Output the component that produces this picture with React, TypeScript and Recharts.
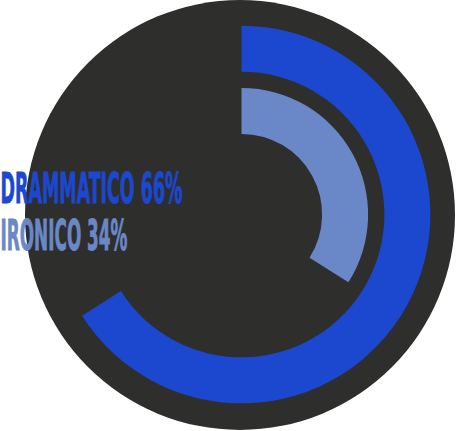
import { RadialBarChart, RadialBar, PolarAngleAxis, Cell } from "recharts";

// inner ring first, outer ring last
const categories = ["IRONICO", "DRAMMATICO"];
const percentages = [34, 66];

const COLORS: Record<string, string> = {
  IRONICO: "#6a88c8",
  DRAMMATICO: "#1b48cf",
};

const chartData = categories.map((name, i) => ({
  name,
  value: percentages[i],
}));

// label text widths in the original (condensed headline face)
const LABEL_WIDTH: Record<string, number> = {
  DRAMMATICO: 183,
  IRONICO: 128,
};

const App = () => {
  const labels = [...chartData].reverse();
  return (
    <div style={{ position: "absolute", top: 0, left: 0, width: 456, height: 431 }}>
      <div
        style={{
          position: "absolute",
          left: 25,
          top: -0.5,
          width: 430,
          height: 430,
          borderRadius: "50%",
          background: "#2e2e2d",
        }}
      />
      <div style={{ position: "absolute", top: 0, left: 0 }}>
        <RadialBarChart
          width={456}
          height={431}
          cx={241.5}
          cy={214.5}
          innerRadius={72.6}
          outerRadius={197.1}
          barSize={46}
          startAngle={90}
          endAngle={-270}
          data={chartData}
        >
          <PolarAngleAxis type="number" domain={[0, 100]} tick={false} axisLine={false} />
          <RadialBar dataKey="value" isAnimationActive={false}>
            {chartData.map((d) => (
              <Cell key={d.name} fill={COLORS[d.name]} />
            ))}
          </RadialBar>
        </RadialBarChart>
      </div>
      <svg
        width={456}
        height={431}
        style={{ position: "absolute", top: 0, left: 0, pointerEvents: "none" }}
      >
        {labels.map((d, i) => (
          <text
            key={d.name}
            x={0.5}
            y={203 + i * 47}
            fill={COLORS[d.name]}
            stroke={COLORS[d.name]}
            strokeWidth={0.9}
            fontFamily="'DejaVu Sans Condensed', 'Liberation Sans Narrow', sans-serif"
            fontWeight="bold"
            fontSize={42}
            textLength={LABEL_WIDTH[d.name] - 1}
            lengthAdjust="spacingAndGlyphs"
          >
            {`${d.name} ${d.value}%`}
          </text>
        ))}
      </svg>
    </div>
  );
};

export default App;
